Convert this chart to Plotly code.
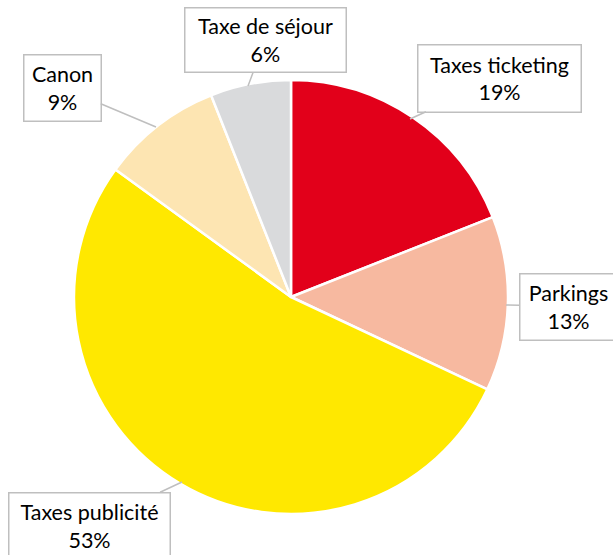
import plotly.graph_objects as go

labels = ["Taxes ticketing", "Parkings", "Taxes publicité", "Canon", "Taxe de séjour"]
values = [19, 13, 53, 9, 6]
colors = ["#E2001A", "#F7B9A0", "#FFE800", "#FDE5B2", "#D9DADC"]

W, H = 613, 555
cx, cy, r = 291, 297, 217

fig = go.Figure(go.Pie(
    labels=labels, values=values, sort=False, direction="clockwise", rotation=0,
    marker=dict(colors=colors, line=dict(color="white", width=2.5)),
    textinfo="none", hoverinfo="label+percent", showlegend=False,
    domain=dict(x=[(cx - r) / W, (cx + r) / W], y=[(H - cy - r) / H, (H - cy + r) / H]),
))

# callout layout in page pixels: (tip_x, tip_y, box_center_x, box_center_y, box_w, box_h)
callouts = {
    "Taxes ticketing": (410, 119, 500, 78, 162, 66),
    "Parkings": (506, 305, 568, 306.5, 96, 65),
    "Taxes publicité": (182, 482, 89, 525.5, 160, 65),
    "Canon": (156, 127, 62, 87.5, 76, 65),
    "Taxe de séjour": (248, 86, 265, 40.5, 160, 63),
}

for lab, val in zip(labels, values):
    tx, ty, bx, by, bw, bh = callouts[lab]
    fig.add_annotation(
        x=tx / W, y=1 - ty / H, xref="paper", yref="paper",
        ax=bx - tx, ay=by - ty,
        text=f"{lab}<br>{val}%", showarrow=True, arrowhead=0, arrowwidth=1.5,
        arrowcolor="#BFBFBF", standoff=0, startstandoff=0,
        bgcolor="white", bordercolor="#BFBFBF", borderwidth=1.5, borderpad=0,
        width=bw, height=bh, align="center", valign="middle",
        font=dict(family="Lato, Open Sans, sans-serif", size=21.5, color="#000000"),
    )

fig.update_layout(
    width=W, height=H, margin=dict(l=0, r=0, t=0, b=0),
    paper_bgcolor="white", plot_bgcolor="white",
)
fig.write_html(
    "out.html",
    config={"displayModeBar": False},
    post_script="document.body.style.margin='0';document.body.style.overflow='hidden';",
)
